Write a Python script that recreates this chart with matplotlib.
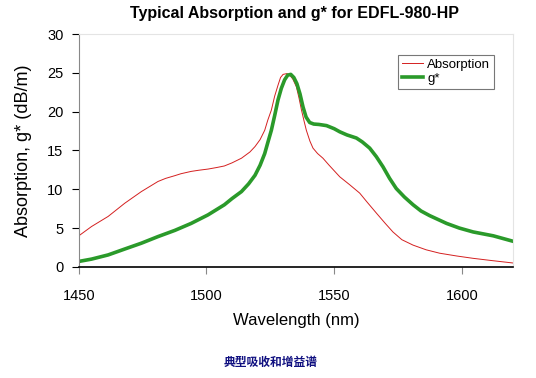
import numpy as np
import matplotlib.pyplot as plt

plt.rcParams["font.family"] = ["Liberation Sans", "DejaVu Sans"]

# Absorption (lectura de la imagen)
abs_wl = [1450, 1455, 1461.5, 1468, 1474.5, 1478, 1481, 1484, 1487.6, 1490, 1494,
          1497, 1500.6, 1504, 1507, 1510, 1513.7, 1517, 1519, 1521, 1522.8, 1524,
          1525.4, 1526.7, 1528, 1529, 1530, 1531.5, 1532.6, 1533.8, 1535.2, 1536.2,
          1537.2, 1538.2, 1539.1, 1540.5, 1541.7, 1543.5, 1545.6, 1548, 1552.2,
          1556, 1560, 1563, 1566.6, 1570, 1573, 1576.5, 1580.9, 1586, 1591.3,
          1598, 1604.4, 1612, 1620]
abs_val = [4.0, 5.2, 6.5, 8.2, 9.7, 10.4, 11.0, 11.4, 11.75, 12.0, 12.3,
           12.45, 12.6, 12.8, 13.0, 13.4, 14.0, 14.8, 15.5, 16.4, 17.6, 18.9,
           20.2, 22.0, 23.4, 24.4, 24.8, 24.9, 24.7, 24.2, 23.2, 21.8,
           20.2, 18.8, 17.6, 16.2, 15.3, 14.6, 14.0, 13.1, 11.6,
           10.6, 9.5, 8.3, 6.9, 5.6, 4.5, 3.5, 2.8, 2.2, 1.76,
           1.4, 1.1, 0.8, 0.5]

# g*
g_wl = [1450, 1455, 1461.5, 1468, 1474.5, 1481, 1487.6, 1494, 1500.6, 1507, 1510,
        1513.7, 1516.5, 1519, 1521, 1522.8, 1524, 1525.4, 1526.7, 1528, 1529.3,
        1530.6, 1531.8, 1533, 1534.2, 1535.4, 1536.6, 1537.8, 1539, 1540.4, 1542,
        1544, 1547, 1550, 1552.2, 1555, 1558.7, 1561, 1563.9, 1566.5, 1569.1,
        1571.7, 1574.3, 1577.5, 1580.9, 1584, 1587.4, 1594, 1599, 1604.4, 1612.3,
        1620]
g_val = [0.7, 1.0, 1.54, 2.3, 3.05, 3.9, 4.7, 5.6, 6.7, 8.0, 8.8,
         9.7, 10.7, 11.8, 13.1, 14.6, 16.0, 17.6, 19.5, 21.5, 23.0,
         24.1, 24.7, 24.8, 24.4, 23.6, 22.3, 20.6, 19.3, 18.6, 18.4,
         18.35, 18.2, 17.8, 17.4, 17.0, 16.6, 16.1, 15.3, 14.2, 12.9,
         11.4, 10.1, 9.0, 8.0, 7.2, 6.6, 5.6, 5.0, 4.5, 4.0,
         3.3]

fig = plt.figure(figsize=(5.36, 3.78), dpi=100)
ax = fig.add_axes([0.147, 0.294, 0.81, 0.616])

ax.plot(abs_wl, abs_val, color="#d42020", linewidth=0.7, label="Absorption")
ax.plot(g_wl, g_val, color="#2a9a2a", linewidth=2.6, label="g*")

ax.set_xlim(1450, 1620)
ax.set_ylim(0, 30)
ax.set_xticks([1450, 1500, 1550, 1600])
ax.set_yticks(range(0, 31, 5))
ax.tick_params(axis="x", direction="out", length=5, labelsize=10.5, pad=11, color="#888888")
ax.tick_params(axis="y", direction="out", length=5, labelsize=10.5, pad=6, color="#000000")

ax.spines["left"].set_color("#888888")
ax.spines["bottom"].set_color("#000000")
ax.spines["bottom"].set_linewidth(1.2)
ax.spines["top"].set_color("#e4e4e4")
ax.spines["right"].set_color("#e4e4e4")

ax.set_xlabel("Wavelength (nm)", fontsize=12, labelpad=7)
ax.set_ylabel("Absorption, g* (dB/m)", fontsize=13, labelpad=11)
fig.text(0.55, 0.963, "Typical Absorption and g* for EDFL-980-HP",
         ha="center", va="center", fontsize=11.5, fontweight="bold")

leg = ax.legend(loc="upper right", bbox_to_anchor=(0.972, 0.94), fontsize=9.5,
                frameon=True, fancybox=False, handlelength=1.6, handletextpad=0.3,
                borderpad=0.3, labelspacing=0.15)
leg.get_frame().set_edgecolor("#555555")
leg.get_frame().set_linewidth(0.8)

fig.text(0.505, 0.042, "典型吸收和增益谱", ha="center", va="center", fontsize=8.5,
         fontweight="bold", color="#101080",
         family=["Noto Sans CJK SC", "DejaVu Sans"])

fig.savefig("out.png", dpi=100)
